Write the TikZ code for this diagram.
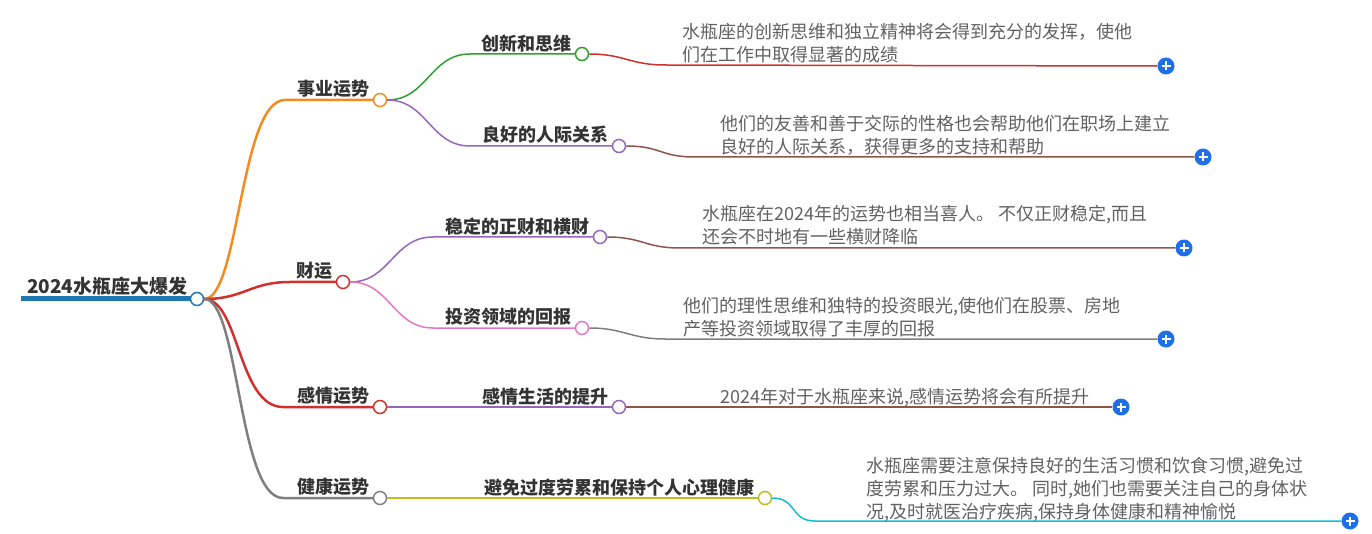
\documentclass[tikz,border=0pt]{standalone}
\usepackage{fontspec}
\setmainfont{Noto Sans CJK SC}
\usetikzlibrary{positioning}
\definecolor{rootblue}{HTML}{1F77B4}
\definecolor{mporange}{HTML}{F58A1F}
\definecolor{mpred}{HTML}{D0312D}
\definecolor{mpgreen}{HTML}{2CA02C}
\definecolor{mppurple}{HTML}{9467BD}
\definecolor{mpbrown}{HTML}{8C564B}
\definecolor{mppink}{HTML}{E377C2}
\definecolor{mpgray}{HTML}{7F7F7F}
\definecolor{mpolive}{HTML}{BCBD22}
\definecolor{mpcyan}{HTML}{17BECF}
\definecolor{plusblue}{HTML}{1F6FE8}
\tikzset{
    dot/.style={circle, draw, fill=white, line width=1.5pt, minimum size=13pt, inner sep=0pt}, % small ring at branch end
    topic/.style={font=\bfseries\fontsize{18}{22}\selectfont, text=black!80, inner sep=0pt},
    leaf/.style={font=\fontsize{18}{23}\selectfont, text=black!62, inner sep=0pt, align=left, anchor=north west},
    plus/.style={circle, fill=plusblue, minimum size=17pt, inner sep=0pt,
        path picture={\draw[white, line width=2pt]
            ([xshift=-4.5pt]path picture bounding box.center) -- ([xshift=4.5pt]path picture bounding box.center)
            ([yshift=-4.5pt]path picture bounding box.center) -- ([yshift=4.5pt]path picture bounding box.center);}},
    thickline/.style={line width=2.5pt},
    thinline/.style={line width=1.5pt},
}

\begin{document}
\begin{tikzpicture}[x=1pt, y=-1pt]
        \useasboundingbox (0,0) rectangle (1372,534);

        % Root
        \coordinate (r0) at (21,299);
        \node[dot, draw=rootblue] (root) at (197,299) {};
        \node[topic, font=\bfseries\fontsize{19}{22}\selectfont, above left=3pt and 2pt of root.west] {2024水瓶座大爆发};
        \draw[rootblue, line width=5pt] (r0) -- (root.west);

        % Level one
        \node[dot, draw=mporange] (shiye) at (380,100) {};
        \node[dot, draw=mpred] (caiyun) at (343,282) {};
        \node[dot, draw=mpred] (ganqing) at (380,407) {};
        \node[dot, draw=mpgray] (jiankang) at (380,498) {};
        \node[topic, above left=2pt and 3pt of shiye.west] {事业运势};
        \node[topic, above left=2pt and 3pt of caiyun.west] {财运};
        \node[topic, above left=2pt and 3pt of ganqing.west] {感情运势};
        \node[topic, above left=2pt and 3pt of jiankang.west] {健康运势};
        \coordinate (s1) at (285,100);
        \coordinate (s2) at (290,282);
        \coordinate (s3) at (283,407);
        \coordinate (s4) at (283,498);
        \draw[mporange, thickline] (root.east) .. controls +(35,0) and +(-45,0) .. (s1) -- (shiye.west);
        \draw[mpred, thickline] (root.east) .. controls +(40,0) and +(-40,0) .. (s2) -- (caiyun.west);
        \draw[mpred, thickline] (root.east) .. controls +(35,0) and +(-45,0) .. (s3) -- (ganqing.west);
        \draw[mpgray, thickline] (root.east) .. controls +(35,0) and +(-45,0) .. (s4) -- (jiankang.west);

        % Level two
        \node[dot, draw=mpgreen] (chuangxin) at (582,54) {};
        \node[dot, draw=mppurple] (renji) at (619,146) {};
        \node[dot, draw=mppurple] (zhengcai) at (600,237) {};
        \node[dot, draw=mppink] (touzi) at (582,328) {};
        \node[dot, draw=mppurple] (shenghuo) at (619,407) {};
        \node[dot, draw=mpolive] (xinli) at (765,498) {};
        \node[topic, above left=2pt and 3pt of chuangxin.west] {创新和思维};
        \node[topic, above left=2pt and 3pt of renji.west] {良好的人际关系};
        \node[topic, above left=2pt and 3pt of zhengcai.west] {稳定的正财和横财};
        \node[topic, above left=2pt and 3pt of touzi.west] {投资领域的回报};
        \node[topic, above left=2pt and 3pt of shenghuo.west] {感情生活的提升};
        \node[topic, above left=2pt and 3pt of xinli.west] {避免过度劳累和保持个人心理健康};
        \coordinate (t1) at (470,54);
        \coordinate (t2) at (470,146);
        \coordinate (t3) at (433,237);
        \coordinate (t4) at (433,328);
        \draw[mpgreen, thinline] (shiye.east) .. controls +(40,0) and +(-40,0) .. (t1) -- (chuangxin.west);
        \draw[mppurple, thinline] (shiye.east) .. controls +(40,0) and +(-40,0) .. (t2) -- (renji.west);
        \draw[mppurple, thinline] (caiyun.east) .. controls +(40,0) and +(-40,0) .. (t3) -- (zhengcai.west);
        \draw[mppink, thinline] (caiyun.east) .. controls +(40,0) and +(-40,0) .. (t4) -- (touzi.west);
        \draw[mppurple, thinline] (ganqing.east) -- (shenghuo.west);
        \draw[mpolive, thinline] (jiankang.east) -- (xinli.west);

        % Leaves
        \node[plus] (p1) at (1166,66) {};
        \node[plus] (p2) at (1203,157) {};
        \node[plus] (p3) at (1184,248) {};
        \node[plus] (p4) at (1166,339) {};
        \node[plus] (p5) at (1121,407) {};
        \node[plus] (p6) at (1350,521) {};
        \node[leaf] at (682,23) {水瓶座的创新思维和独立精神将会得到充分的发挥，使他\\们在工作中取得显著的成绩};
        \node[leaf] at (720,115) {他们的友善和善于交际的性格也会帮助他们在职场上建立\\良好的人际关系，获得更多的支持和帮助};
        \node[leaf] at (702,205) {水瓶座在2024年的运势也相当喜人。 不仅正财稳定,而且\\还会不时地有一些横财降临};
        \node[leaf] at (683,297) {他们的理性思维和独特的投资眼光,使他们在股票、房地\\产等投资领域取得了丰厚的回报};
        \node[leaf] at (720,388) {2024年对于水瓶座来说,感情运势将会有所提升};
        \node[leaf] at (866,457) {水瓶座需要注意保持良好的生活习惯和饮食习惯,避免过\\度劳累和压力过大。 同时,她们也需要关注自己的身体状\\况,及时就医治疗疾病,保持身体健康和精神愉悦};
        \coordinate (u1) at (665,65);
        \coordinate (u2) at (695,157);
        \coordinate (u3) at (680,248);
        \coordinate (u4) at (665,339);
        \coordinate (u6) at (815,521);
        \draw[mpred, thinline] (chuangxin.east) .. controls +(35,0) and +(-35,0) .. (u1) -- (p1.west);
        \draw[mpbrown, thinline] (renji.east) .. controls +(35,0) and +(-35,0) .. (u2) -- (p2.west);
        \draw[mpbrown, thinline] (zhengcai.east) .. controls +(35,0) and +(-35,0) .. (u3) -- (p3.west);
        \draw[mpgray, thinline] (touzi.east) .. controls +(35,0) and +(-35,0) .. (u4) -- (p4.west);
        \draw[mpbrown, thinline] (shenghuo.east) -- (p5.west);
        \draw[mpcyan, thinline] (xinli.east) .. controls +(25,0) and +(-25,0) .. (u6) -- (p6.west);
\end{tikzpicture}
\end{document}
